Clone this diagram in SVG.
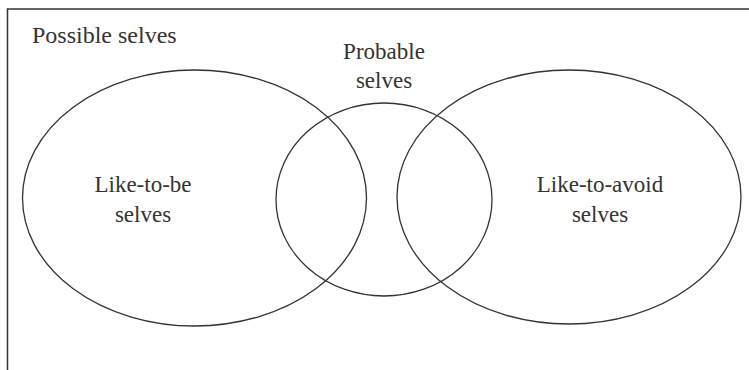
<svg xmlns="http://www.w3.org/2000/svg" width="749" height="370" viewBox="0 0 749 370">
<style>
.e{fill:none;stroke:#333;stroke-width:1.3}
.t{font-family:"Liberation Serif","Times New Roman",serif;font-size:23px;fill:#333;text-anchor:middle}
</style>
<rect x="0" y="0" width="749" height="370" fill="#fff"/>
<g id="frame">
<path d="M7.5 370 V9 H749" fill="none" stroke="#333" stroke-width="1.5"/>
<text class="t" x="32" y="43.3" style="text-anchor:start;font-size:24px">Possible selves</text>
</g>
<g id="like-to-be">
<ellipse class="e" cx="194.5" cy="198" rx="172" ry="128"/>
<text class="t" x="143" y="191.7">Like-to-be</text>
<text class="t" x="143" y="221.7">selves</text>
</g>
<g id="probable">
<ellipse class="e" cx="384" cy="199.5" rx="108" ry="96.5"/>
<text class="t" x="384" y="59.3">Probable</text>
<text class="t" x="384" y="88.3">selves</text>
</g>
<g id="like-to-avoid">
<ellipse class="e" cx="569" cy="197" rx="172" ry="127"/>
<text class="t" x="600" y="192">Like-to-avoid</text>
<text class="t" x="600" y="222">selves</text>
</g>
<g id="connectors"></g>
</svg>
